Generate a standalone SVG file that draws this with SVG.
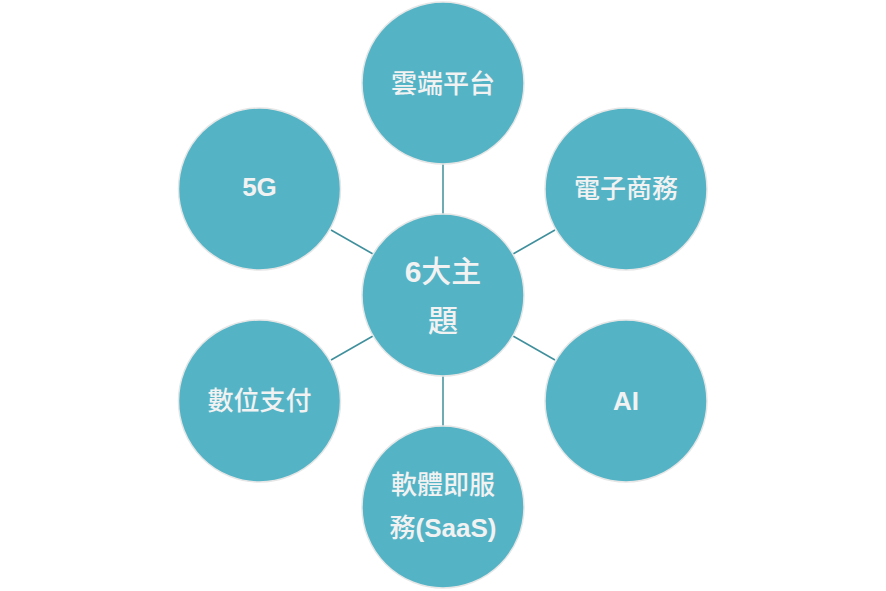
<svg xmlns="http://www.w3.org/2000/svg" width="886" height="591" viewBox="0 0 886 591">
<style>
.n{fill:#54B4C6;stroke:#E6E6E6;stroke-width:1.5}
.t{fill:#F2F2F2;font-family:"Liberation Sans","Noto Sans CJK TC",sans-serif;font-size:26px;font-weight:500;text-anchor:middle;dominant-baseline:central}
.b{font-weight:bold}
.big{font-size:30px}
.c{stroke:#3F8F9C;stroke-width:1.5;fill:none}
</style>
<rect width="886" height="591" fill="#FFFFFF"/>
<g id="connectors">
<line class="c" x1="443" y1="164" x2="443" y2="214"/>
<line class="c" x1="443" y1="376" x2="443" y2="426"/>
<line class="c" x1="331" y1="230" x2="373" y2="254"/>
<line class="c" x1="555" y1="230" x2="513" y2="254"/>
<line class="c" x1="331" y1="360" x2="373" y2="336"/>
<line class="c" x1="555" y1="360" x2="513" y2="336"/>
</g>
<g id="center"><circle class="n" cx="443" cy="295" r="81"/><text class="t big" x="443" y="271"><tspan class="b">6</tspan>大主</text><text class="t big" x="443" y="320">題</text></g>
<g id="cloud"><circle class="n" cx="443" cy="83" r="81"/><text class="t" x="443" y="84">雲端平台</text></g>
<g id="ecommerce"><circle class="n" cx="626" cy="189" r="81"/><text class="t" x="626" y="189">電子商務</text></g>
<g id="ai"><circle class="n" cx="626" cy="401" r="81"/><text class="t b" x="626" y="401">AI</text></g>
<g id="saas"><circle class="n" cx="443" cy="507" r="81"/><text class="t" x="443" y="485">軟體即服</text><text class="t" x="443" y="528">務<tspan class="b">(SaaS)</tspan></text></g>
<g id="payment"><circle class="n" cx="259.5" cy="401" r="81"/><text class="t" x="259.5" y="401">數位支付</text></g>
<g id="g5"><circle class="n" cx="259.5" cy="189" r="81"/><text class="t b" x="259.5" y="187">5G</text></g>
</svg>
